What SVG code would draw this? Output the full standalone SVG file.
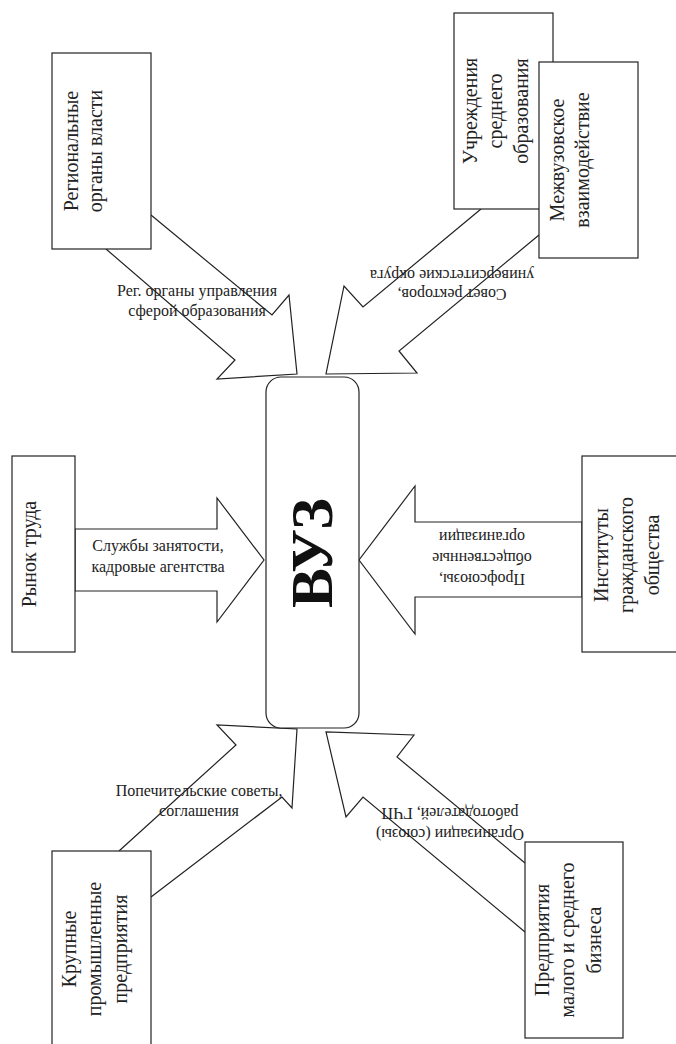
<svg xmlns="http://www.w3.org/2000/svg" width="676" height="1044" viewBox="0 0 676 1044">
<style>
.box{fill:#fff;stroke:#222;stroke-width:1.2}
.arr{fill:#fff;stroke:#222;stroke-width:1.2;stroke-linejoin:miter}
.t{font-family:"Liberation Serif","Times New Roman",serif;font-size:20px;fill:#222;text-anchor:middle}
.l{font-family:"Liberation Serif","Times New Roman",serif;font-size:16px;fill:#222;text-anchor:middle}
.v{font-family:"Liberation Serif","Times New Roman",serif;font-size:60px;font-weight:bold;fill:#111;text-anchor:middle}
</style>
<rect width="676" height="1044" fill="#fff"/>
<g id="connectors">
<polyline class="arr" points="151,215 272,315 289,295 297,374 217,379 235,360 106,249"/>
<polyline class="arr" points="481,209 363,307 344,286 326,374 417,373 399,351 539,235"/>
<polygon class="arr" points="75,529 217,529 217,498 264,560 217,622 217,591 75,591"/>
<polygon class="arr" points="582,522 415,522 415,486 359,560 415,634 415,597 582,597"/>
<polyline class="arr" points="119,851 236,745 217,725 297,729 292,808 282,797 151,897"/>
<polyline class="arr" points="525,863 397,757 414,735 326,732 346,817 363,797 525,932"/>
</g>
<g id="labels">
<text class="l" x="197" y="296">Рег. органы управления</text>
<text class="l" x="197" y="316">сферой образования</text>
<text class="l" x="158" y="551">Службы занятости,</text>
<text class="l" x="158" y="572">кадровые агентства</text>
<text class="l" x="199" y="796">Попечительские советы,</text>
<text class="l" x="199" y="816">соглашения</text>
<text class="l" transform="translate(452,289) rotate(180)">Совет ректоров,</text>
<text class="l" transform="translate(452,270) rotate(180)">университетские округа</text>
<text class="l" transform="translate(482,574) rotate(180)">Профсоюзы,</text>
<text class="l" transform="translate(482,553) rotate(180)">общественные</text>
<text class="l" transform="translate(482,532) rotate(180)">организации</text>
<text class="l" transform="translate(450,829) rotate(180)">Организации (союзы)</text>
<text class="l" transform="translate(450,808) rotate(180)">работодателей, ГЧП</text>
</g>
<g id="vuz">
<rect class="box" x="266" y="377" width="93" height="351" rx="15" ry="15"/>
<text class="v" transform="translate(332,553) rotate(-90)">ВУЗ</text>
</g>
<g id="regionalnye">
<rect class="box" x="52" y="53" width="99" height="196"/>
<text class="t" transform="translate(78,151) rotate(-90)">Региональные</text>
<text class="t" transform="translate(102,151) rotate(-90)">органы власти</text>
</g>
<g id="uchrezhdeniya">
<rect class="box" x="454" y="13" width="99" height="196"/>
<text class="t" transform="translate(477,111) rotate(-90)">Учреждения</text>
<text class="t" transform="translate(502,111) rotate(-90)">среднего</text>
<text class="t" transform="translate(528,111) rotate(-90)">образования</text>
</g>
<g id="mezhvuz">
<rect class="box" x="539" y="62" width="99" height="196"/>
<text class="t" transform="translate(564,160) rotate(-90)">Межвузовское</text>
<text class="t" transform="translate(589,160) rotate(-90)">взаимодействие</text>
</g>
<g id="rynok">
<rect class="box" x="12" y="456" width="63" height="196"/>
<text class="t" transform="translate(36,554) rotate(-90)">Рынок труда</text>
</g>
<g id="instituty">
<rect class="box" x="582" y="456" width="99" height="196"/>
<text class="t" transform="translate(608,555) rotate(-90)">Институты</text>
<text class="t" transform="translate(633,555) rotate(-90)">гражданского</text>
<text class="t" transform="translate(659,555) rotate(-90)">общества</text>
</g>
<g id="krupnye">
<rect class="box" x="52" y="851" width="99" height="196"/>
<text class="t" transform="translate(76,949) rotate(-90)">Крупные</text>
<text class="t" transform="translate(101,949) rotate(-90)">промышленные</text>
<text class="t" transform="translate(127,949) rotate(-90)">предприятия</text>
</g>
<g id="msb">
<rect class="box" x="525" y="842" width="98" height="196"/>
<text class="t" transform="translate(549,940) rotate(-90)">Предприятия</text>
<text class="t" transform="translate(574,940) rotate(-90)">малого и среднего</text>
<text class="t" transform="translate(601,940) rotate(-90)">бизнеса</text>
</g>
</svg>
